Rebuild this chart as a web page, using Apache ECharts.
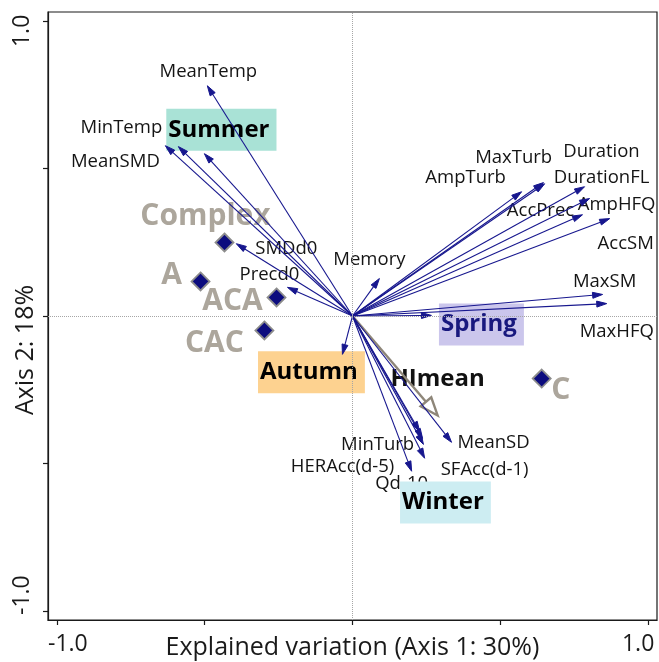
<!DOCTYPE html>
<html>
<head>
<meta charset="utf-8">
<script src="https://cdn.jsdelivr.net/npm/echarts@6/dist/echarts.min.js"></script>
<style>
  html, body { margin: 0; padding: 0; background: #fff; }
  #chart { width: 659px; height: 662px; }
</style>
</head>
<body>
<div id="chart"></div>
<script>
// Environmental variables (arrow tips in ordination space)
const varNames = ['MeanTemp', 'MinTemp', 'MeanSMD', 'SMDd0', 'Precd0', 'Memory',
  'AmpTurb', 'MaxTurb', 'Duration', 'DurationFL', 'AmpHFQ', 'AccPrec', 'AccSM',
  'MaxSM', 'MaxHFQ', 'MeanSD', 'MinTurb', 'HERAcc(d-5)', 'SFAcc(d-1)', 'Qd-10'];
const varAxis1 = [-0.491, -0.633, -0.589, -0.393, -0.220, 0.091,
  0.572, 0.650, 0.646, 0.785, 0.802, 0.778, 0.870,
  0.846, 0.860, 0.335, 0.227, 0.237, 0.244, 0.200];
const varAxis2 = [0.780, 0.577, 0.574, 0.245, 0.097, 0.127,
  0.421, 0.448, 0.452, 0.438, 0.398, 0.343, 0.330,
  0.073, 0.042, -0.428, -0.391, -0.415, -0.482, -0.526];

// Seasons
const seasonNames = ['Summer', 'Spring', 'Autumn', 'Winter'];
const seasonAxis1 = [-0.501, 0.267, -0.034, 0.240];
const seasonAxis2 = [0.550, 0.002, -0.130, -0.435];

// Supplementary variable
const suppNames = ['HImean'];
const suppAxis1 = [0.288];
const suppAxis2 = [-0.337];

// Sites / flow regime classes
const siteNames = ['Complex', 'A', 'ACA', 'CAC', 'C'];
const siteAxis1 = [-0.433, -0.514, -0.257, -0.298, 0.640];
const siteAxis2 = [0.249, 0.117, 0.063, -0.049, -0.212];

// Axes
const tickValues = [-1, -0.5, 0, 0.5, 1];
const tickLabelValues = [-1, 1];
const tickLabels = ['-1.0', '1.0'];
const axis1Title = 'Explained variation (Axis 1: 30%)';
const axis2Title = 'Axis 2: 18%';

// Label placement (pixel offsets from the point they annotate)
const labelOffset = {
  'MeanTemp': [1, -14], 'MinTemp': [-44, -18], 'MeanSMD': [-63, 15],
  'SMDd0': [50, 5], 'Precd0': [-18, -13], 'Memory': [-10, -19],
  'AmpTurb': [-56, -14], 'MaxTurb': [-31, -26], 'Duration': [58, -31],
  'DurationFL': [17, -9], 'AmpHFQ': [27, 6], 'AccPrec': [-42, -4],
  'AccSM': [16, 25], 'MaxSM': [2, -13], 'MaxHFQ': [10, 28],
  'MeanSD': [42, 0], 'MinTurb': [-42, 13], 'HERAcc(d-5)': [-80, 28],
  'SFAcc(d-1)': [60, 11], 'Qd-10': [-10, 12],
  'Summer': [17, -24], 'Spring': [50, 9], 'Autumn': [-31, 18], 'Winter': [22, 58],
  'HImean': [0, -36],
  'Complex': [-19, -26], 'A': [-29, -6], 'ACA': [-44, 4], 'CAC': [-50, 13], 'C': [19, 12]
};
const seasonBox = {
  'Summer': { bg: '#a9e2d6', color: '#000000' },
  'Spring': { bg: '#cbc6ec', color: '#18187e' },
  'Autumn': { bg: '#fdd290', color: '#000000' },
  'Winter': { bg: '#cdedf2', color: '#000000' }
};

const FONT = "'Open Sans', 'Noto Sans', sans-serif";
const NAVY = '#17178e';
const GREYARROW = '#8e8679';
const SITEGREY = '#aca69c';

function zipPoints(names, xs, ys) {
  return names.map((n, i) => ({ name: n, value: [xs[i], ys[i]] }));
}

function arrowRenderer(color, lineWidth, headLen, headWidth, hollow) {
  return function (params, api) {
    const o = api.coord([0, 0]);
    const t = api.coord([api.value(0), api.value(1)]);
    const dx = t[0] - o[0], dy = t[1] - o[1];
    const len = Math.sqrt(dx * dx + dy * dy) || 1;
    const ux = dx / len, uy = dy / len;
    const hw = headWidth / 2;
    const bx = t[0] - ux * headLen, by = t[1] - uy * headLen;
    const p1 = [bx - uy * hw, by + ux * hw];
    const p2 = [bx + uy * hw, by - ux * hw];
    return {
      type: 'group',
      children: [
        { type: 'line', shape: { x1: o[0], y1: o[1], x2: bx, y2: by },
          style: { stroke: color, lineWidth: lineWidth } },
        { type: 'polygon', shape: { points: [t, p1, p2] },
          style: hollow ? { fill: '#ffffff', stroke: color, lineWidth: lineWidth, lineJoin: 'miter' }
                        : { fill: color, stroke: color, lineWidth: 1 } }
      ]
    };
  };
}

function labelPoints(names, xs, ys, styleFn) {
  return names.map((n, i) => ({
    name: n, value: [xs[i], ys[i]],
    label: Object.assign({ offset: labelOffset[n] || [0, 0] }, styleFn ? styleFn(n) : {})
  }));
}

const chart = echarts.init(document.getElementById('chart'), null, { renderer: 'canvas' });

const axisCommon = {
  type: 'value',
  min: -1.03,
  max: 1.03,
  splitLine: { show: false },
  axisLine: { show: true, onZero: false, lineStyle: { color: '#1a1a1a', width: 1.2 } },
  axisTick: { show: true, length: 5, inside: false, customValues: tickValues,
    lineStyle: { color: '#1a1a1a', width: 1.2 } },
  nameLocation: 'middle',
  nameMoveOverlap: false
};

const hiddenPoint = { color: 'transparent', opacity: 1 };

const option = {
  backgroundColor: '#ffffff',
  animation: false,
  grid: { left: 48, top: 12, right: 2, bottom: 42, show: true,
    containLabel: false, outerBoundsMode: 'none',
    borderColor: '#1a1a1a', borderWidth: 1.2, backgroundColor: 'transparent' },
  xAxis: Object.assign({}, axisCommon, {
    name: axis1Title,
    nameGap: 15,
    nameTextStyle: { fontFamily: FONT, fontSize: 25, color: '#1a1a1a' },
    axisLabel: {
      customValues: tickLabelValues,
      margin: 13,
      fontFamily: FONT, fontSize: 23, color: '#1a1a1a',
      formatter: function (v) {
        const t = tickLabels[tickLabelValues.indexOf(v)];
        return v < 0 ? '{l|' + t + '}' : '{r|' + t + '}';
      },
      rich: {
        l: { fontFamily: FONT, fontSize: 23, color: '#1a1a1a', padding: [0, 0, 0, 22] },
        r: { fontFamily: FONT, fontSize: 23, color: '#1a1a1a', padding: [0, 20, 0, 0] }
      }
    }
  }),
  yAxis: Object.assign({}, axisCommon, {
    name: axis2Title,
    nameGap: 10,
    nameRotate: 90,
    nameTextStyle: { fontFamily: FONT, fontSize: 25, color: '#1a1a1a', padding: [0, 68, 0, 0] },
    axisLabel: {
      customValues: tickLabelValues,
      rotate: 90,
      margin: 14,
      fontFamily: FONT, fontSize: 23, color: '#1a1a1a',
      formatter: function (v) {
        const t = tickLabels[tickLabelValues.indexOf(v)];
        return v < 0 ? '{l|' + t + '}' : '{r|' + t + '}';
      },
      rich: {
        l: { fontFamily: FONT, fontSize: 23, color: '#1a1a1a', padding: [0, 0, 0, 32] },
        r: { fontFamily: FONT, fontSize: 23, color: '#1a1a1a', padding: [0, 20, 0, 0] }
      }
    }
  }),
  series: [
    // Origin cross-hairs
    {
      type: 'scatter',
      data: [],
      z: 1,
      markLine: {
        silent: true,
        symbol: 'none',
        label: { show: false },
        lineStyle: { type: 'dotted', color: '#a6a6a6', width: 1 },
        data: [{ xAxis: 0 }, { yAxis: 0 }]
      }
    },
    // Site class names (behind arrows)
    {
      type: 'scatter',
      z: 2,
      symbolSize: 1,
      itemStyle: hiddenPoint,
      silent: true,
      label: { show: true, position: 'inside', formatter: '{b}', textBorderWidth: 0,
        fontFamily: FONT, fontSize: 30, fontWeight: 'bold', color: SITEGREY },
      data: labelPoints(siteNames, siteAxis1, siteAxis2)
    },
    // Variable names
    {
      type: 'scatter',
      z: 2,
      symbolSize: 1,
      itemStyle: hiddenPoint,
      silent: true,
      label: { show: true, position: 'inside', formatter: '{b}', textBorderWidth: 0,
        fontFamily: FONT, fontSize: 18.5, color: '#141414' },
      data: labelPoints(varNames, varAxis1, varAxis2)
    },
    // Season names in coloured boxes
    {
      type: 'scatter',
      z: 2,
      symbolSize: 1,
      itemStyle: hiddenPoint,
      silent: true,
      label: { show: true, position: 'inside', formatter: '{b}', textBorderWidth: 0,
        fontFamily: FONT, fontSize: 24, fontWeight: 'bold', lineHeight: 28,
        padding: [7, 7, 7, 2] },
      data: labelPoints(seasonNames, seasonAxis1, seasonAxis2, n => ({
        backgroundColor: seasonBox[n].bg, color: seasonBox[n].color }))
    },
    // Supplementary variable name
    {
      type: 'scatter',
      z: 2,
      symbolSize: 1,
      itemStyle: hiddenPoint,
      silent: true,
      label: { show: true, position: 'inside', formatter: '{b}', textBorderWidth: 0,
        fontFamily: FONT, fontSize: 24, fontWeight: 'bold', color: '#111111' },
      data: labelPoints(suppNames, suppAxis1, suppAxis2)
    },
    // Variable and season arrows
    {
      type: 'custom',
      z: 4,
      silent: true,
      renderItem: arrowRenderer(NAVY, 1.1, 10, 6, false),
      data: zipPoints(varNames.concat(seasonNames),
        varAxis1.concat(seasonAxis1), varAxis2.concat(seasonAxis2)).map(d => d.value)
    },
    // Supplementary variable arrow (hollow head)
    {
      type: 'custom',
      z: 3,
      silent: true,
      renderItem: arrowRenderer(GREYARROW, 2.4, 18, 14, true),
      data: zipPoints(suppNames, suppAxis1, suppAxis2).map(d => d.value)
    },
    // Site symbols
    {
      type: 'scatter',
      z: 5,
      symbol: 'diamond',
      symbolSize: 18,
      itemStyle: { color: '#0c0c7e', borderColor: '#8c8c8c', borderWidth: 1.8, opacity: 1 },
      data: zipPoints(siteNames, siteAxis1, siteAxis2).map(d => d.value)
    }
  ]
};

chart.setOption(option);
</script>
</body>
</html>
